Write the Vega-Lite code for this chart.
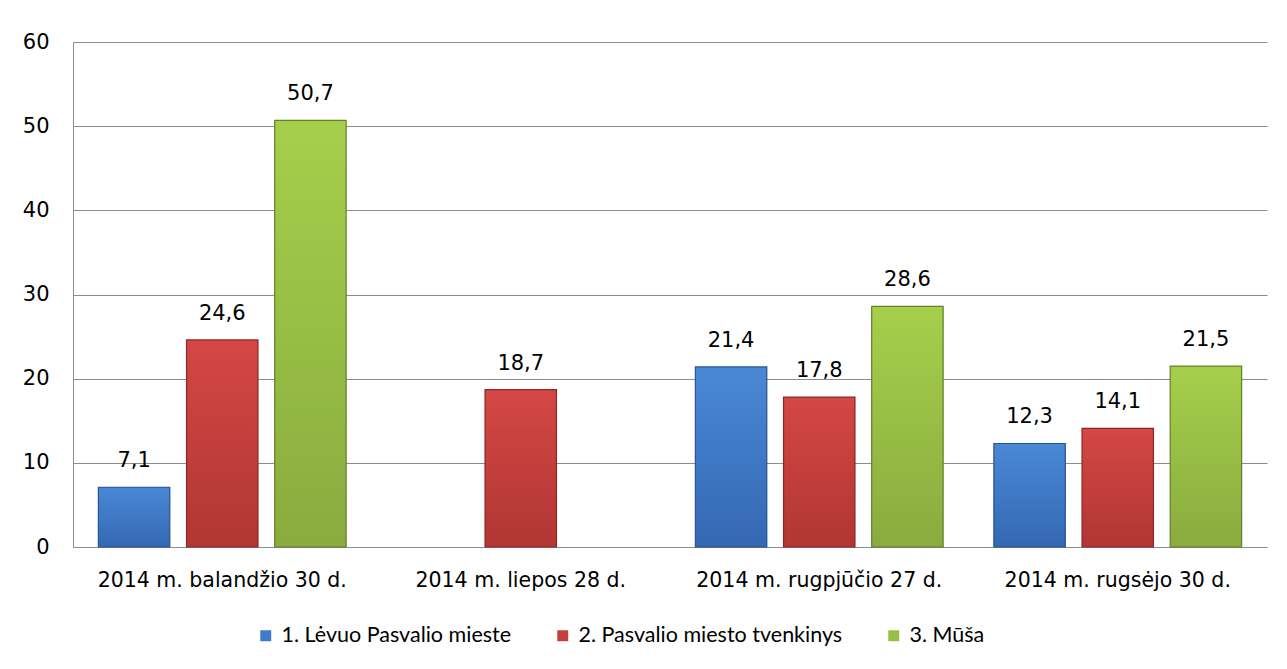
{
  "$schema": "https://vega.github.io/schema/vega-lite/v6.json",
  "width": 1194,
  "height": 505,
  "autosize": {"type": "none"},
  "padding": {"left": 73, "top": 42, "right": 20, "bottom": 122},
  "background": "white",
  "config": {
    "locale": {"number": {"decimal": ",", "thousands": " ", "grouping": [3], "currency": ["", " €"]}},
    "view": {"stroke": null},
    "font": "DejaVu Sans"
  },
  "data": {
    "values": [
      {"date": "2014 m. balandžio 30 d.", "series": "1. Lėvuo Pasvalio mieste", "value": 7.1},
      {"date": "2014 m. balandžio 30 d.", "series": "2. Pasvalio miesto tvenkinys", "value": 24.6},
      {"date": "2014 m. balandžio 30 d.", "series": "3. Mūša", "value": 50.7},
      {"date": "2014 m. liepos 28 d.", "series": "2. Pasvalio miesto tvenkinys", "value": 18.7},
      {"date": "2014 m. rugpjūčio 27 d.", "series": "1. Lėvuo Pasvalio mieste", "value": 21.4},
      {"date": "2014 m. rugpjūčio 27 d.", "series": "2. Pasvalio miesto tvenkinys", "value": 17.8},
      {"date": "2014 m. rugpjūčio 27 d.", "series": "3. Mūša", "value": 28.6},
      {"date": "2014 m. rugsėjo 30 d.", "series": "1. Lėvuo Pasvalio mieste", "value": 12.3},
      {"date": "2014 m. rugsėjo 30 d.", "series": "2. Pasvalio miesto tvenkinys", "value": 14.1},
      {"date": "2014 m. rugsėjo 30 d.", "series": "3. Mūša", "value": 21.5}
    ]
  },
  "encoding": {
    "x": {
      "field": "date", "type": "nominal", "sort": null, "title": null,
      "scale": {"paddingInner": 0.17, "paddingOuter": 0.085},
      "axis": {"labelAngle": 0, "labelFontSize": 20.5, "labelLimit": 0, "labelColor": "#000", "labelPadding": 23, "ticks": false, "domainColor": "#8c8c8c", "labelFont": "DejaVu Sans"}
    },
    "xOffset": {
      "field": "series", "type": "nominal", "sort": ["1. Lėvuo Pasvalio mieste", "2. Pasvalio miesto tvenkinys", "3. Mūša"],
      "scale": {"paddingInner": 0.19, "paddingOuter": 0}
    },
    "y": {
      "field": "value", "type": "quantitative", "title": null,
      "scale": {"domain": [0, 60], "nice": false},
      "axis": {"values": [0, 10, 20, 30, 40, 50, 60], "labelFontSize": 21, "labelColor": "#000", "labelPadding": 24, "ticks": false, "domainColor": "#8c8c8c", "gridColor": "#8c8c8c", "labelFont": "DejaVu Sans"}
    }
  },
  "layer": [
    {
      "mark": {"type": "bar"},
      "encoding": {
        "color": {
          "field": "series", "type": "nominal", "sort": ["1. Lėvuo Pasvalio mieste", "2. Pasvalio miesto tvenkinys", "3. Mūša"],
          "scale": {"range": ["#3e7bc8", "#c43e3b", "#96c043"]},
          "legend": {
            "orient": "none", "legendX": 182, "legendY": 583, "direction": "horizontal", "title": null,
            "symbolType": "square", "symbolSize": 120, "symbolStrokeWidth": 0,
            "labelFont": "Lato", "labelFontSize": 21.5, "labelColor": "#000", "labelOffset": 5, "labelLimit": 0,
            "columnPadding": 40, "gridAlign": "none"
          }
        }
      }
    },
    {
      "transform": [{"filter": "datum.series === '1. Lėvuo Pasvalio mieste'"}],
      "mark": {"type": "bar", "stroke": "#2a5590", "strokeWidth": 1.2,
        "fill": {"gradient": "linear", "x1": 0, "y1": 0, "x2": 0, "y2": 1, "stops": [{"offset": 0, "color": "#4a88d6"}, {"offset": 1, "color": "#3468b3"}]}}
    },
    {
      "transform": [{"filter": "datum.series === '2. Pasvalio miesto tvenkinys'"}],
      "mark": {"type": "bar", "stroke": "#8a2826", "strokeWidth": 1.2,
        "fill": {"gradient": "linear", "x1": 0, "y1": 0, "x2": 0, "y2": 1, "stops": [{"offset": 0, "color": "#d44744"}, {"offset": 1, "color": "#b13634"}]}}
    },
    {
      "transform": [{"filter": "datum.series === '3. Mūša'"}],
      "mark": {"type": "bar", "stroke": "#64802a", "strokeWidth": 1.2,
        "fill": {"gradient": "linear", "x1": 0, "y1": 0, "x2": 0, "y2": 1, "stops": [{"offset": 0, "color": "#a5cf4b"}, {"offset": 1, "color": "#8aab3f"}]}}
    },
    {
      "mark": {"type": "text", "dy": -16, "fontSize": 21, "font": "DejaVu Sans", "color": "#000", "baseline": "bottom"},
      "encoding": {
        "text": {"field": "value", "type": "quantitative", "format": ".1f"}
      }
    }
  ]
}
